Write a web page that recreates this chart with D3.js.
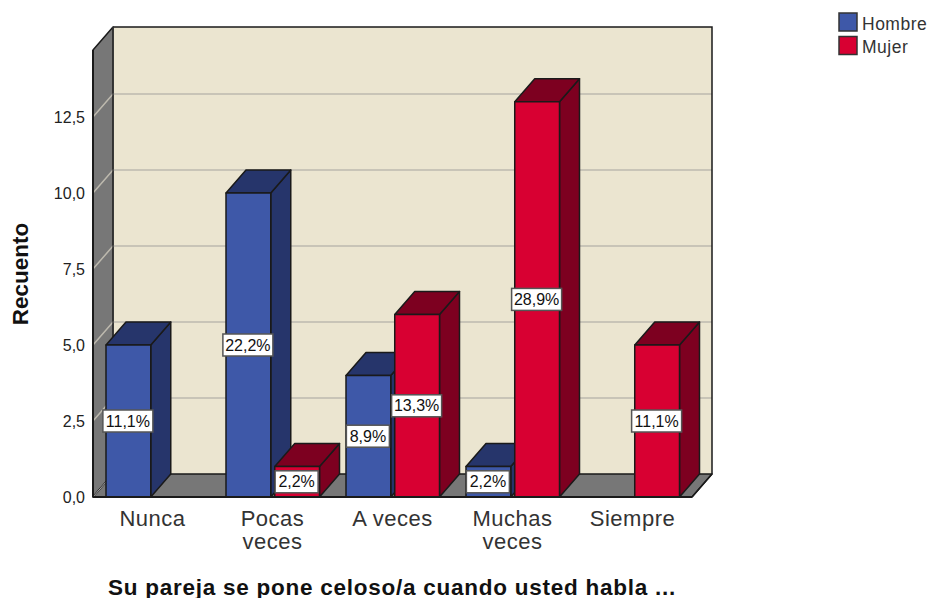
<!DOCTYPE html>
<html><head><meta charset="utf-8">
<script src="https://cdn.jsdelivr.net/npm/d3@7"></script>
<style>html,body{margin:0;background:#fff}svg{display:block}text{font-family:"Liberation Sans",Arial,sans-serif}</style>
</head><body><svg id="c" width="930" height="598"></svg>
<script>
const categories=["Nunca","Pocas veces","A veces","Muchas veces","Siempre"];
const categoryLines=[["Nunca"],["Pocas","veces"],["A veces"],["Muchas","veces"],["Siempre"]];
const seriesNames=["Hombre","Mujer"];
const hombre=[5,10,4,1,0];
const mujer=[0,1,6,13,5];
const hombrePct=["11,1%","22,2%","8,9%","2,2%",""];
const mujerPct=["","2,2%","13,3%","28,9%","11,1%"];
const yTicks=[0,2.5,5,7.5,10,12.5];
const yTitle="Recuento";
const xTitle="Su pareja se pone celoso/a cuando usted habla ...";
const faces={Hombre:["#3e58a8","#26356b"],Mujer:["#d80032","#7d0020"]};
const svg=d3.select("#c");
const L=93,R=693,B=497,T=50,dx=20,dy=-23;
const x=d3.scaleBand().domain(categories).range([L,R]);
const inner=d3.scaleBand().domain(seriesNames).range([13,106.5]).paddingInner(4/49);
const y=d3.scaleLinear().domain([0,447/30.4]).range([B,T]);
const ln=d3.line();
const edge="#1a1a1a";
const poly=(pts,fill,stroke=edge,w=1.5)=>svg.append("path").attr("d",ln(pts)+"Z").attr("fill",fill).attr("stroke",stroke).attr("stroke-width",w).attr("stroke-linejoin","round");
// walls
poly([[L+dx,T+dy],[R+dx-1,T+dy],[R+dx-1,B+dy],[L+dx,B+dy]],"#ebe5d0","none",0);
poly([[L,T],[L+dx,T+dy],[L+dx,B+dy],[L,B]],"#777777");
poly([[L,B],[L+dx,B+dy],[R+dx-1,B+dy],[R-1,B]],"#777777");
yTicks.filter(t=>t>0).forEach(t=>{
  svg.append("path").attr("d",ln([[L,y(t)],[L+dx,y(t)+dy],[R+dx-1,y(t)+dy]])).attr("fill","none").attr("stroke","#bdb9ae").attr("stroke-width",1.5);
});
svg.append("path").attr("d",ln([[L,B],[L+dx,B+dy]])).attr("stroke","#aaa").attr("stroke-width",1);
svg.append("path").attr("d",ln([[L+dx,T+dy],[R+dx-1,T+dy],[R+dx-1,B+dy],[R-1,B]])).attr("fill","none").attr("stroke",edge).attr("stroke-width",1.5);
svg.append("path").attr("d",ln([[L+dx,T+dy],[L+dx,B+dy]])).attr("stroke","#333").attr("stroke-width",1.5);
// bars
const rows=[];
categories.forEach((c,i)=>{rows.push({c,s:"Hombre",v:hombre[i],p:hombrePct[i]});rows.push({c,s:"Mujer",v:mujer[i],p:mujerPct[i]});});
rows.filter(d=>d.v>0).forEach(d=>{
  const x0=x(d.c)+inner(d.s),x1=x0+inner.bandwidth(),yt=y(d.v);
  const [f,s]=faces[d.s];
  poly([[x1,B],[x1+dx,B+dy],[x1+dx,yt+dy],[x1,yt]],s);
  poly([[x0,yt],[x0+dx,yt+dy],[x1+dx,yt+dy],[x1,yt]],s);
  poly([[x0,yt],[x1,yt],[x1,B],[x0,B]],f);
});
// axis line + labels
svg.append("line").attr("x1",L).attr("x2",R-1).attr("y1",B).attr("y2",B).attr("stroke",edge).attr("stroke-width",2);
svg.append("line").attr("x1",L).attr("x2",L).attr("y1",T).attr("y2",B).attr("stroke",edge).attr("stroke-width",2);
const ya=svg.append("g").attr("transform",`translate(${L},0)`).call(d3.axisLeft(y).tickValues(yTicks).tickSize(0).tickPadding(8).tickFormat(d=>d3.format(".1f")(d).replace(".",",")));
ya.select(".domain").remove();
ya.selectAll("text").attr("font-size",16).attr("fill","#222").style("font-family",'"Liberation Sans",Arial,sans-serif');
// value labels
rows.filter(d=>d.v>0).forEach(d=>{
  const cx=x(d.c)+inner(d.s)+inner.bandwidth()/2-0.5,cy=y(d.v/2);
  const w=d.p.length>4?50:43;
  svg.append("rect").attr("x",cx-w/2).attr("y",cy-11).attr("width",w).attr("height",22).attr("fill","#fff").attr("stroke","#555").attr("stroke-width",1.5);
  svg.append("text").attr("x",cx).attr("y",cy+5.5).attr("text-anchor","middle").attr("font-size",16).attr("fill","#111").text(d.p);
});
// category labels
categories.forEach((c,k)=>{
  const cx=x(c)+x.bandwidth()/2-0.5;
  categoryLines[k].forEach((w,i)=>svg.append("text").attr("x",cx).attr("y",526+i*23).attr("text-anchor","middle").attr("font-size",22).attr("letter-spacing",0.5).attr("fill","#333").text(w));
});
svg.append("text").attr("x",392).attr("y",595).attr("text-anchor","middle").attr("font-size",22.5).attr("letter-spacing",0.75).attr("font-weight","bold").attr("fill","#111").text(xTitle);
svg.append("text").attr("transform","translate(28,274) rotate(-90)").attr("text-anchor","middle").attr("font-size",22.5).attr("font-weight","bold").attr("fill","#111").text(yTitle);
// legend
seriesNames.forEach((s,i)=>{
  svg.append("rect").attr("x",839).attr("y",13+i*23.5).attr("width",18).attr("height",18).attr("fill",faces[s][0]).attr("stroke","#333").attr("stroke-width",1.5);
  svg.append("text").attr("x",862).attr("y",30+i*22.5).attr("font-size",17.5).attr("letter-spacing",0.5).attr("fill","#333").text(s);
});
</script></body></html>
